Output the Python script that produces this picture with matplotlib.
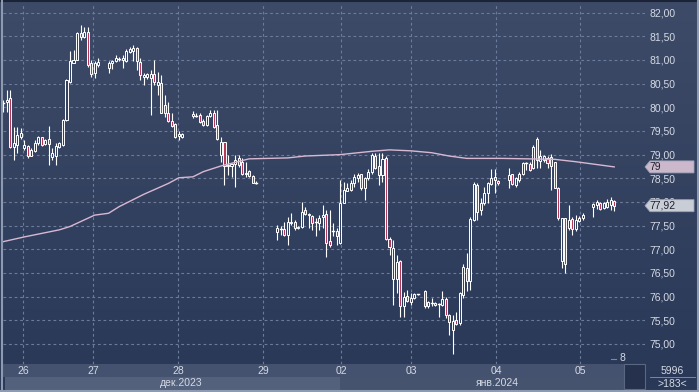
import numpy as np
import matplotlib
matplotlib.use('Agg')
import matplotlib.pyplot as plt
from matplotlib.patches import Rectangle, Polygon

nan = np.nan

# ------------------------- DATA -------------------------
# hourly candles, one entry per slot, nan = empty slot
opens = [
    80.08, 80.12, 80.19, 79.17, 79.20, 79.38, 79.15, 79.18, 78.98, 79.08, 79.25, 79.37, 79.22, 79.32,
    78.94, 78.97, 79.17, 79.20, 79.73, 80.54, 80.94, 81.01, 81.58, 81.49, 81.60, 80.94, 80.72, 80.90,
    nan, nan,
    80.84, 80.93, 80.97, 81.00, 81.00, 80.98, 81.17, 81.19, 81.25, 80.95, 80.63, 80.63, 80.61, 80.70,
    80.47, 80.51, 80.05, 79.87, 79.71, 79.64, 79.40, 79.37,
    nan, nan,
    79.82, 79.83, 79.84, 79.71, 79.63, 79.82, 79.87, 79.63, 78.99, 79.27, 78.75, 78.75, 78.80, 78.93,
    78.85, 78.58, 78.65, 78.55, 78.41,
    nan, nan, nan, nan, nan,
    77.37, 77.40, 77.42, 77.30, 77.55, 77.58, 77.44, 77.46, 77.83, 77.72, 77.70, 77.60, 77.56, 77.68,
    77.74, 77.17, 77.41, 77.39, 77.14, 77.97, 78.24, 78.25, 78.39, 78.50, 78.58, 78.29, 78.50, 78.64,
    78.98, 78.75, 78.57, 78.92, 77.21, 76.36, 76.36, 76.74, 75.79, 76.02, 75.88, 75.96, 76.05,
    nan,
    76.12, 75.79, 75.88, 75.86, 75.83, 75.82, 75.95, 75.61, 75.30, 75.50, 75.43, 76.03, 76.60, 76.32,
    77.62, 78.36, 77.83, 77.97, 78.18, 78.37, 78.53, 78.44,
    nan, nan,
    78.46, 78.58, 78.36, 78.46, 78.60, 78.80, 78.80, 78.71, 79.34, 78.87, 78.89, 78.92, 78.94, 78.84,
    78.30, 76.75, 77.65, 77.44, 77.64, 77.43, 77.60, 77.67,
    nan, nan,
    77.90, 77.94, 77.97, 77.88, 77.90, 77.94, 78.02,
]
highs = [
    80.15, 80.37, 80.37, 79.59, 79.59, 79.56, 79.31, 79.20, 79.13, 79.30, 79.40, 79.38, 79.33, 79.60,
    79.13, 79.24, 79.27, 79.75, 80.60, 81.18, 81.21, 81.60, 81.74, 81.70, 81.70, 81.00, 80.97, 81.04,
    nan, nan,
    80.97, 81.00, 81.10, 81.06, 81.10, 81.23, 81.28, 81.32, 81.27, 81.05, 80.72, 80.72, 80.79, 81.00,
    80.75, 80.68, 80.26, 80.12, 79.89, 79.66, 79.49, 79.45,
    nan, nan,
    79.92, 79.87, 79.87, 79.75, 79.84, 79.94, 79.94, 79.94, 79.38, 79.27, 78.99, 78.82, 78.99, 78.99,
    78.92, 78.85, 78.67, 78.57, 78.44,
    nan, nan, nan, nan, nan,
    77.51, 77.48, 77.58, 77.69, 77.76, 77.62, 77.50, 78.00, 77.90, 77.77, 77.72, 77.65, 77.72, 77.94,
    77.83, 77.83, 77.55, 77.44, 78.46, 78.43, 78.39, 78.46, 78.60, 78.62, 78.60, 78.52, 78.69, 79.04,
    79.04, 79.03, 79.03, 78.97, 77.25, 77.20, 76.88, 76.77, 76.10, 76.14, 76.07, 76.07, 76.06,
    nan,
    76.14, 75.91, 75.96, 75.88, 75.86, 76.12, 76.00, 75.64, 75.60, 75.68, 76.10, 76.68, 76.91, 77.69,
    78.43, 78.41, 78.08, 78.32, 78.43, 78.70, 78.70, 78.46,
    nan, nan,
    78.71, 78.60, 78.53, 78.64, 78.84, 78.85, 78.84, 79.20, 79.38, 79.10, 79.00, 78.98, 79.01, 78.85,
    78.32, 77.67, 77.67, 77.93, 77.69, 77.72, 77.71, 77.76,
    nan, nan,
    77.97, 78.04, 78.00, 77.99, 78.06, 78.11, 78.04,
]
lows = [
    79.90, 79.91, 79.13, 78.89, 79.03, 79.34, 79.10, 78.92, 78.96, 79.05, 79.20, 79.18, 79.20, 78.78,
    78.89, 78.78, 79.15, 79.18, 79.70, 80.51, 80.93, 81.00, 81.42, 81.46, 80.86, 80.65, 80.61, 80.86,
    nan, nan,
    80.72, 80.82, 80.95, 80.98, 80.83, 80.96, 81.14, 80.97, 80.78, 80.58, 80.47, 80.60, 79.84, 80.47,
    80.26, 79.87, 79.80, 79.68, 79.59, 79.36, 79.31, 79.35,
    nan, nan,
    79.77, 79.80, 79.66, 79.60, 79.61, 79.80, 79.56, 79.31, 78.85, 78.36, 78.57, 78.53, 78.32, 78.74,
    78.57, 78.53, 78.53, 78.39, 78.37,
    nan, nan, nan, nan, nan,
    77.20, 77.30, 77.27, 77.09, 77.51, 77.40, 77.42, 77.44, 77.72, 77.44, 77.41, 77.27, 77.41, 77.44,
    76.83, 77.05, 77.27, 77.09, 77.12, 77.97, 78.22, 78.22, 78.32, 78.43, 78.25, 78.03, 78.46, 78.60,
    78.69, 78.36, 78.43, 77.20, 76.88, 75.82, 76.07, 75.57, 75.57, 75.89, 75.82, 75.95, 76.04,
    nan,
    75.76, 75.76, 75.79, 75.80, 75.57, 75.79, 75.55, 75.19, 74.78, 75.40, 75.40, 75.96, 76.12, 76.14,
    77.60, 77.62, 77.72, 77.93, 77.97, 78.36, 78.18, 78.36,
    nan, nan,
    78.29, 78.36, 78.32, 78.43, 78.57, 78.68, 78.65, 78.70, 78.71, 78.71, 78.85, 78.72, 78.25, 78.29,
    77.62, 76.60, 76.49, 77.41, 77.30, 77.38, 77.58, 77.62,
    nan, nan,
    77.69, 77.86, 77.83, 77.86, 77.88, 77.83, 77.81,
]
closes = [
    80.10, 80.15, 79.17, 79.24, 79.42, 79.46, 79.20, 78.96, 79.10, 79.25, 79.37, 79.20, 79.30, 79.22,
    79.03, 79.18, 79.24, 79.73, 80.58, 80.97, 81.01, 81.58, 81.48, 81.60, 80.90, 80.70, 80.93, 80.95,
    nan, nan,
    80.93, 80.98, 81.04, 81.02, 81.05, 81.19, 81.23, 81.26, 80.97, 80.68, 80.68, 80.70, 80.70, 80.53,
    80.53, 79.89, 79.87, 79.70, 79.61, 79.38, 79.44, 79.44,
    nan, nan,
    79.85, 79.81, 79.68, 79.63, 79.82, 79.89, 79.59, 79.33, 79.27, 78.75, 78.79, 78.80, 78.89, 78.79,
    78.58, 78.62, 78.55, 78.41, 78.39,
    nan, nan, nan, nan, nan,
    77.44, 77.42, 77.30, 77.58, 77.58, 77.44, 77.47, 77.79, 77.74, 77.75, 77.56, 77.58, 77.65, 77.72,
    77.14, 77.09, 77.39, 77.27, 77.97, 78.25, 78.29, 78.39, 78.53, 78.57, 78.29, 78.50, 78.64, 78.99,
    78.71, 78.57, 78.90, 77.21, 77.04, 77.02, 76.72, 75.79, 75.99, 75.91, 75.96, 76.05, 76.05,
    nan,
    75.79, 75.88, 75.86, 75.83, 75.84, 75.95, 75.60, 75.47, 75.49, 75.41, 76.07, 76.63, 76.32, 77.64,
    78.37, 77.79, 77.97, 78.18, 78.39, 78.51, 78.46, 78.41,
    nan, nan,
    78.57, 78.37, 78.50, 78.60, 78.82, 78.82, 78.68, 79.17, 78.89, 78.96, 78.96, 78.82, 78.75, 78.30,
    77.67, 77.65, 76.68, 77.62, 77.43, 77.62, 77.67, 77.72,
    nan, nan,
    77.95, 77.99, 77.86, 77.97, 78.00, 78.04, 77.92,
]

# moving average, read at some slots
ma_slot = [0, 6, 16, 19, 26, 30, 33, 40, 47, 50, 54, 57, 62, 70, 81, 86, 96, 105, 110, 116,
           122, 127, 132, 142, 157, 163, 168, 174]
ma_vals = [77.16, 77.26, 77.41, 77.48, 77.72, 77.76, 77.90, 78.16, 78.39, 78.51, 78.53, 78.64,
           78.76, 78.91, 78.93, 78.97, 79.00, 79.07, 79.10, 79.08, 79.04, 78.97, 78.92, 78.92,
           78.90, 78.85, 78.80, 78.74]

day_labels = ['26', '27', '28', '29', '02', '03', '04', '05']
day_slot = [5.6, 25.5, 49.8, 74.0, 96.2, 116.1, 140.3, 164.3]
month_labels = ['дек.2023', 'янв.2024']
price_ticks = np.arange(75.0, 82.01, 0.5)
last_price = 77.92
ma_label = '79'

# ------------------------- PLOT -------------------------
W, H = 699, 392
plt.rcParams['font.family'] = ['Liberation Sans', 'DejaVu Sans']

fig = plt.figure(figsize=(W / 100, H / 100), dpi=100)


def fx(px):
    return px / W


def fy(py):
    return 1 - py / H


# background gradient
bg = fig.add_axes([0, 0, 1, 1], zorder=-5)
top = np.array([61, 75, 104]) / 255
bot = np.array([42, 56, 88]) / 255
t = np.linspace(0, 1, 256)[:, None]
grad = (top * (1 - t) + bot * t)[:, None, :]
bg.imshow(grad, aspect='auto', extent=[0, 1, 0, 1])
bg.set_xlim(0, 1)
bg.set_ylim(0, 1)
bg.axis('off')

ax = fig.add_axes([fx(3), fy(364), fx(642), 361 / H])
ax.patch.set_alpha(0)
ax.set_xlim(-0.085, 182.77)
ax.set_ylim(74.573, 82.205)

grid_c = '#6b7b9c'
for p in price_ticks:
    ax.axhline(p, color=grid_c, lw=0.8, ls=(0, (2.5, 2.5)), zorder=1)
for d in day_slot:
    ax.axvline(d, color=grid_c, lw=0.8, ls=(0, (2.5, 2.5)), zorder=1)

# candles
bw = 0.58
up_face = '#34425f'
dn_face = '#b3385a'
for i in range(len(opens)):
    o, h, l, c = opens[i], highs[i], lows[i], closes[i]
    if np.isnan(o):
        continue
    ax.plot([i, i], [l, h], color='white', lw=0.8, zorder=3, solid_capstyle='butt')
    lo, hi = min(o, c), max(o, c)
    if hi - lo < 0.025:
        ax.plot([i - bw / 2, i + bw / 2], [c, c], color='white', lw=1.0, zorder=4)
        continue
    face = up_face if c >= o else dn_face
    ax.add_patch(Rectangle((i - bw / 2, lo), bw, hi - lo, facecolor=face,
                           edgecolor='white', lw=0.7, zorder=4))

ax.plot(ma_slot, ma_vals, color='#d8b8d2', lw=1.0, zorder=5)

ax.yaxis.tick_right()
ax.set_yticks(price_ticks)
ax.set_yticklabels([('%.2f' % p).replace('.', ',') for p in price_ticks])
ax.tick_params(axis='y', length=0, pad=3, labelsize=7.5, labelcolor='#d4d9e4')
ax.set_xticks([])
for s in ax.spines.values():
    s.set_visible(False)


# right-side markers
def marker(price, text, color):
    yy = ax.transData.transform((0, price))[1]
    y = H - yy
    pts = [(fx(645), fy(y)), (fx(650), fy(y - 6)), (fx(694), fy(y - 6)),
           (fx(694), fy(y + 6)), (fx(650), fy(y + 6))]
    fig.patches.append(Polygon(pts, closed=True, transform=fig.transFigure,
                               facecolor=color, edgecolor='#9aa2b4', lw=0.6, zorder=10))
    fig.text(fx(649), fy(y), text, fontsize=7.5, color='#1c2230', va='center', ha='left', zorder=11)


marker(ma_vals[-1], ma_label, '#cbb8cb')
marker(last_price, ('%.2f' % last_price).replace('.', ','), '#c9cdd6')

# bottom bar
fig.patches.append(Rectangle((fx(3), fy(377)), fx(622), 13 / H, transform=fig.transFigure,
                             facecolor='#44526f', edgecolor='none', zorder=1))
fig.patches.append(Rectangle((fx(5), fy(390)), fx(335), 13 / H, transform=fig.transFigure,
                             facecolor='#54617d', edgecolor='none', zorder=1))
fig.patches.append(Rectangle((fx(340), fy(390)), fx(284), 13 / H, transform=fig.transFigure,
                             facecolor='#46536f', edgecolor='none', zorder=1))
fig.patches.append(Rectangle((fx(624), fy(389)), fx(21), 25 / H, transform=fig.transFigure,
                             facecolor='#26324d', edgecolor='#5a6782', lw=0.8, zorder=1))
for lab, d in zip(day_labels, day_slot):
    xp = ax.transData.transform((d, 0))[0]
    fig.text(xp / W, fy(371), lab, fontsize=7.5, color='#d4d9e4', ha='center', va='center')
fig.text(fx(181), fy(383), month_labels[0], fontsize=7.5, color='#d4d9e4', ha='center', va='center')
fig.text(fx(497), fy(383), month_labels[1], fontsize=7.5, color='#d4d9e4', ha='center', va='center')

fig.text(fx(672), fy(371), '5996', fontsize=7.5, color='#d4d9e4', ha='center', va='center')
fig.text(fx(672), fy(384), '>183<', fontsize=7.5, color='#d4d9e4', ha='center', va='center')
fig.lines.append(plt.Line2D([fx(650), fx(695)], [fy(377), fy(377)], transform=fig.transFigure,
                            color='#8a95aa', lw=0.6))
fig.text(fx(622), fy(358), '8', fontsize=7.5, color='#d4d9e4', ha='center', va='center')
fig.lines.append(plt.Line2D([fx(611), fx(616)], [fy(359), fy(359)], transform=fig.transFigure,
                            color='#7d889f', lw=0.8))

# frame
fig.lines.append(plt.Line2D([0, 1], [fy(0.5), fy(0.5)], transform=fig.transFigure, color='#1b2336', lw=1.5))
fig.lines.append(plt.Line2D([fx(1.5), fx(1.5)], [0, 1], transform=fig.transFigure, color='#8e9ab0', lw=1.5))
fig.lines.append(plt.Line2D([0, 1], [fy(391), fy(391)], transform=fig.transFigure, color='#8e9ab0', lw=1.5))
fig.lines.append(plt.Line2D([fx(697.5), fx(697.5)], [0, 1], transform=fig.transFigure, color='#8e9ab0', lw=1.5))

fig.savefig('out.png', dpi=100)
